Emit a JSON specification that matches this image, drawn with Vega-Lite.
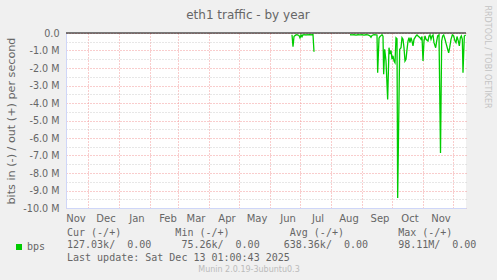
{
  "$schema": "https://vega.github.io/schema/vega-lite/v6.json",
  "width": 400,
  "height": 175,
  "autosize": {"type": "none"},
  "padding": {"left": 66, "top": 33, "right": 31, "bottom": 72},
  "background": "#f0f0f0",
  "title": {"text": "eth1 traffic - by year", "font": "DejaVu Sans", "fontSize": 12, "fontWeight": "normal", "color": "#666666", "anchor": "middle", "dx": -18, "offset": 0, "baseline": "alphabetic", "dy": 26},
  "config": {"view": {"stroke": null, "fill": "#ffffff"}, "font": "DejaVu Sans"},
  "resolve": {"scale": {"x": "shared", "y": "shared"}, "axis": {"x": "independent", "y": "independent"}},
  "layer": [
    {
      "data": {"values": [
        {"date": "2025-06-23T00:00:00", "value": -100000, "series": "bps"},
        {"date": "2025-06-24T00:00:00", "value": -780000, "series": "bps"},
        {"date": "2025-06-25T00:00:00", "value": -200000, "series": "bps"},
        {"date": "2025-06-26T00:00:00", "value": -150000, "series": "bps"},
        {"date": "2025-06-27T00:00:00", "value": -110000, "series": "bps"},
        {"date": "2025-06-28T00:00:00", "value": -100000, "series": "bps"},
        {"date": "2025-06-29T00:00:00", "value": -120000, "series": "bps"},
        {"date": "2025-06-30T00:00:00", "value": -140000, "series": "bps"},
        {"date": "2025-07-01T00:00:00", "value": -280000, "series": "bps"},
        {"date": "2025-07-02T00:00:00", "value": -110000, "series": "bps"},
        {"date": "2025-07-03T00:00:00", "value": -220000, "series": "bps"},
        {"date": "2025-07-04T00:00:00", "value": -100000, "series": "bps"},
        {"date": "2025-07-05T00:00:00", "value": -110000, "series": "bps"},
        {"date": "2025-07-06T00:00:00", "value": -100000, "series": "bps"},
        {"date": "2025-07-07T00:00:00", "value": -120000, "series": "bps"},
        {"date": "2025-07-08T00:00:00", "value": -100000, "series": "bps"},
        {"date": "2025-07-09T00:00:00", "value": -110000, "series": "bps"},
        {"date": "2025-07-10T00:00:00", "value": -100000, "series": "bps"},
        {"date": "2025-07-11T00:00:00", "value": -100000, "series": "bps"},
        {"date": "2025-07-12T00:00:00", "value": -110000, "series": "bps"},
        {"date": "2025-07-13T00:00:00", "value": -100000, "series": "bps"},
        {"date": "2025-07-14T00:00:00", "value": -100000, "series": "bps"},
        {"date": "2025-07-15T00:00:00", "value": -1070000, "series": "bps"},
        {"date": "2025-07-16T00:00:00", "value": null, "series": "bps"},
        {"date": "2025-08-20T00:00:00", "value": -100000, "series": "bps"},
        {"date": "2025-08-22T00:00:00", "value": -110000, "series": "bps"},
        {"date": "2025-08-24T00:00:00", "value": -100000, "series": "bps"},
        {"date": "2025-08-26T00:00:00", "value": -120000, "series": "bps"},
        {"date": "2025-08-28T00:00:00", "value": -100000, "series": "bps"},
        {"date": "2025-08-30T00:00:00", "value": -110000, "series": "bps"},
        {"date": "2025-09-01T00:00:00", "value": -100000, "series": "bps"},
        {"date": "2025-09-03T00:00:00", "value": -120000, "series": "bps"},
        {"date": "2025-09-05T00:00:00", "value": -100000, "series": "bps"},
        {"date": "2025-09-07T00:00:00", "value": -110000, "series": "bps"},
        {"date": "2025-09-09T00:00:00", "value": -160000, "series": "bps"},
        {"date": "2025-09-10T00:00:00", "value": -240000, "series": "bps"},
        {"date": "2025-09-11T00:00:00", "value": -140000, "series": "bps"},
        {"date": "2025-09-13T00:00:00", "value": -100000, "series": "bps"},
        {"date": "2025-09-15T00:00:00", "value": -110000, "series": "bps"},
        {"date": "2025-09-16T00:00:00", "value": -120000, "series": "bps"},
        {"date": "2025-09-16T16:00:00", "value": -2270000, "series": "bps"},
        {"date": "2025-09-18T00:00:00", "value": -300000, "series": "bps"},
        {"date": "2025-09-19T00:00:00", "value": -200000, "series": "bps"},
        {"date": "2025-09-20T00:00:00", "value": -150000, "series": "bps"},
        {"date": "2025-09-21T00:00:00", "value": -100000, "series": "bps"},
        {"date": "2025-09-22T00:00:00", "value": -180000, "series": "bps"},
        {"date": "2025-09-22T16:00:00", "value": -2360000, "series": "bps"},
        {"date": "2025-09-23T16:00:00", "value": -930000, "series": "bps"},
        {"date": "2025-09-25T00:00:00", "value": -1600000, "series": "bps"},
        {"date": "2025-09-26T16:00:00", "value": -3800000, "series": "bps"},
        {"date": "2025-09-28T00:00:00", "value": -840000, "series": "bps"},
        {"date": "2025-09-29T00:00:00", "value": -1200000, "series": "bps"},
        {"date": "2025-09-30T00:00:00", "value": -1000000, "series": "bps"},
        {"date": "2025-10-01T00:00:00", "value": -1500000, "series": "bps"},
        {"date": "2025-10-02T00:00:00", "value": -1300000, "series": "bps"},
        {"date": "2025-10-03T00:00:00", "value": -1600000, "series": "bps"},
        {"date": "2025-10-04T00:00:00", "value": -1700000, "series": "bps"},
        {"date": "2025-10-05T00:00:00", "value": -270000, "series": "bps"},
        {"date": "2025-10-06T00:00:00", "value": -330000, "series": "bps"},
        {"date": "2025-10-06T16:00:00", "value": -9430000, "series": "bps"},
        {"date": "2025-10-08T16:00:00", "value": -940000, "series": "bps"},
        {"date": "2025-10-10T00:00:00", "value": -840000, "series": "bps"},
        {"date": "2025-10-11T00:00:00", "value": -270000, "series": "bps"},
        {"date": "2025-10-12T00:00:00", "value": -360000, "series": "bps"},
        {"date": "2025-10-13T00:00:00", "value": -840000, "series": "bps"},
        {"date": "2025-10-14T00:00:00", "value": -1600000, "series": "bps"},
        {"date": "2025-10-15T00:00:00", "value": -1500000, "series": "bps"},
        {"date": "2025-10-16T00:00:00", "value": -950000, "series": "bps"},
        {"date": "2025-10-17T00:00:00", "value": -460000, "series": "bps"},
        {"date": "2025-10-18T00:00:00", "value": -270000, "series": "bps"},
        {"date": "2025-10-19T00:00:00", "value": -550000, "series": "bps"},
        {"date": "2025-10-20T00:00:00", "value": -270000, "series": "bps"},
        {"date": "2025-10-21T00:00:00", "value": -460000, "series": "bps"},
        {"date": "2025-10-22T00:00:00", "value": -740000, "series": "bps"},
        {"date": "2025-10-23T00:00:00", "value": -360000, "series": "bps"},
        {"date": "2025-10-25T00:00:00", "value": -170000, "series": "bps"},
        {"date": "2025-10-26T00:00:00", "value": -110000, "series": "bps"},
        {"date": "2025-10-27T00:00:00", "value": -170000, "series": "bps"},
        {"date": "2025-10-29T00:00:00", "value": -270000, "series": "bps"},
        {"date": "2025-10-30T00:00:00", "value": -360000, "series": "bps"},
        {"date": "2025-10-31T00:00:00", "value": -200000, "series": "bps"},
        {"date": "2025-11-01T00:00:00", "value": -1600000, "series": "bps"},
        {"date": "2025-11-02T00:00:00", "value": -460000, "series": "bps"},
        {"date": "2025-11-03T00:00:00", "value": -170000, "series": "bps"},
        {"date": "2025-11-04T00:00:00", "value": -360000, "series": "bps"},
        {"date": "2025-11-06T00:00:00", "value": -460000, "series": "bps"},
        {"date": "2025-11-07T00:00:00", "value": -170000, "series": "bps"},
        {"date": "2025-11-08T00:00:00", "value": -110000, "series": "bps"},
        {"date": "2025-11-09T00:00:00", "value": -360000, "series": "bps"},
        {"date": "2025-11-10T00:00:00", "value": -170000, "series": "bps"},
        {"date": "2025-11-11T00:00:00", "value": -110000, "series": "bps"},
        {"date": "2025-11-12T00:00:00", "value": -550000, "series": "bps"},
        {"date": "2025-11-13T16:00:00", "value": -840000, "series": "bps"},
        {"date": "2025-11-14T16:00:00", "value": -460000, "series": "bps"},
        {"date": "2025-11-15T16:00:00", "value": -170000, "series": "bps"},
        {"date": "2025-11-17T00:00:00", "value": -110000, "series": "bps"},
        {"date": "2025-11-18T12:00:00", "value": -6860000, "series": "bps"},
        {"date": "2025-11-19T16:00:00", "value": -460000, "series": "bps"},
        {"date": "2025-11-20T16:00:00", "value": -170000, "series": "bps"},
        {"date": "2025-11-21T16:00:00", "value": -110000, "series": "bps"},
        {"date": "2025-11-23T00:00:00", "value": -360000, "series": "bps"},
        {"date": "2025-11-24T08:00:00", "value": -650000, "series": "bps"},
        {"date": "2025-11-25T16:00:00", "value": -930000, "series": "bps"},
        {"date": "2025-11-26T16:00:00", "value": -1130000, "series": "bps"},
        {"date": "2025-11-27T16:00:00", "value": -840000, "series": "bps"},
        {"date": "2025-11-29T00:00:00", "value": -360000, "series": "bps"},
        {"date": "2025-11-30T08:00:00", "value": -110000, "series": "bps"},
        {"date": "2025-12-01T16:00:00", "value": -170000, "series": "bps"},
        {"date": "2025-12-03T00:00:00", "value": -460000, "series": "bps"},
        {"date": "2025-12-04T00:00:00", "value": -550000, "series": "bps"},
        {"date": "2025-12-05T00:00:00", "value": -200000, "series": "bps"},
        {"date": "2025-12-06T08:00:00", "value": -460000, "series": "bps"},
        {"date": "2025-12-07T08:00:00", "value": -740000, "series": "bps"},
        {"date": "2025-12-08T08:00:00", "value": -270000, "series": "bps"},
        {"date": "2025-12-09T08:00:00", "value": -170000, "series": "bps"},
        {"date": "2025-12-10T08:00:00", "value": -360000, "series": "bps"},
        {"date": "2025-12-11T00:00:00", "value": -2270000, "series": "bps"},
        {"date": "2025-12-12T08:00:00", "value": -170000, "series": "bps"},
        {"date": "2025-12-13T16:00:00", "value": -110000, "series": "bps"}
      ]},
      "mark": {"type": "line", "strokeWidth": 1.3, "invalid": "break-paths-show-domains"},
      "encoding": {
        "x": {
          "field": "date", "type": "temporal",
          "scale": {"domain": [{"year": 2024, "month": 11, "date": 9}, {"year": 2025, "month": 12, "date": 14}], "nice": false},
          "axis": {
            "orient": "bottom",
            "values": [
              {"year": 2024, "month": 12, "date": 1}, {"year": 2025, "month": 1, "date": 1}, {"year": 2025, "month": 2, "date": 1},
              {"year": 2025, "month": 3, "date": 1}, {"year": 2025, "month": 4, "date": 1}, {"year": 2025, "month": 5, "date": 1},
              {"year": 2025, "month": 6, "date": 1}, {"year": 2025, "month": 7, "date": 1}, {"year": 2025, "month": 8, "date": 1},
              {"year": 2025, "month": 9, "date": 1}, {"year": 2025, "month": 10, "date": 1}, {"year": 2025, "month": 11, "date": 1},
              {"year": 2025, "month": 12, "date": 1}
            ],
            "grid": true, "gridColor": "#f29a9a", "gridDash": [1, 2], "gridWidth": 1,
            "labels": false, "ticks": false, "domain": false,
            "title": "Munin 2.0.19-3ubuntu0.3",
            "titleFont": "DejaVu Sans", "titleFontSize": 8, "titleFontWeight": "normal", "titleColor": "#bbbbbb",
            "titleX": 182.5, "titleY": 63, "titleAlign": "center", "titleBaseline": "alphabetic"
          }
        },
        "y": {
          "field": "value", "type": "quantitative",
          "scale": {"domain": [-10000000, 0], "nice": false, "zero": false},
          "axis": {
            "orient": "left",
            "values": [0, -500000, -1000000, -1500000, -2000000, -2500000, -3000000, -3500000, -4000000, -4500000, -5000000, -5500000, -6000000, -6500000, -7000000, -7500000, -8000000, -8500000, -9000000, -9500000, -10000000],
            "grid": true,
            "gridColor": {"condition": {"test": "datum.value % 1000000 == 0", "value": "#f29a9a"}, "value": "#cfcfcf"},
            "gridDash": [1, 2],
            "ticks": false, "domain": true, "domainColor": "#cfd6f8",
            "labelExpr": "datum.value % 1000000 != 0 ? '' : (datum.value == 0 ? '0.0' : '-' + format(-datum.value / 1000000, '.1f') + ' M')",
            "labelFont": "DejaVu Sans", "labelFontSize": 9.6, "labelColor": "#666666", "labelPadding": 7, "labelOverlap": false,
            "title": "bits in (-) / out (+) per second",
            "titleFont": "DejaVu Sans", "titleFontSize": 11.2, "titleFontWeight": "normal", "titleColor": "#666666",
            "titleX": -55, "titleY": 87.5, "titleAngle": -90, "titleAlign": "center", "titleBaseline": "middle"
          }
        },
        "color": {
          "field": "series", "type": "nominal",
          "scale": {"range": ["#00cc00"]},
          "legend": {
            "title": null, "orient": "none", "legendX": -52, "legendY": 209, "padding": 0,
            "symbolType": "square", "symbolSize": 36, "symbolFillColor": "#00cc00", "symbolStrokeColor": "#00cc00", "symbolStrokeWidth": 0,
            "labelFont": "DejaVu Sans Mono", "labelFontSize": 10, "labelColor": "#666666", "labelOffset": 3
          }
        }
      }
    },
    {
      "data": {"values": [{"level": 0}]},
      "mark": {"type": "rule", "color": "#000000", "strokeWidth": 1},
      "encoding": {
        "x": {
          "datum": {"year": 2024, "month": 11, "date": 9}, "type": "temporal",
          "scale": {"domain": [{"year": 2024, "month": 11, "date": 9}, {"year": 2025, "month": 12, "date": 14}], "nice": false},
          "axis": {
            "orient": "bottom",
            "values": [
              {"year": 2024, "month": 11, "date": 18, "hours": 12}, {"year": 2024, "month": 12, "date": 18, "hours": 12},
              {"year": 2025, "month": 1, "date": 18, "hours": 12}, {"year": 2025, "month": 2, "date": 18, "hours": 12},
              {"year": 2025, "month": 3, "date": 18, "hours": 12}, {"year": 2025, "month": 4, "date": 18, "hours": 12},
              {"year": 2025, "month": 5, "date": 18, "hours": 12}, {"year": 2025, "month": 6, "date": 18, "hours": 12},
              {"year": 2025, "month": 7, "date": 18, "hours": 12}, {"year": 2025, "month": 8, "date": 18, "hours": 12},
              {"year": 2025, "month": 9, "date": 18, "hours": 12}, {"year": 2025, "month": 10, "date": 18, "hours": 12},
              {"year": 2025, "month": 11, "date": 18, "hours": 12}
            ],
            "format": "%b",
            "grid": false, "ticks": false, "tickSize": 0, "domain": true, "domainColor": "#cfd6f8",
            "labelFont": "DejaVu Sans", "labelFontSize": 10, "labelColor": "#666666", "labelPadding": 10,
            "labelBaseline": "middle", "labelAlign": "center", "labelFlush": false, "labelOverlap": false,
            "title": [
              "\u00a0\u00a0\u00a0\u00a0Cur (-/+)\u00a0\u00a0\u00a0\u00a0\u00a0\u00a0\u00a0\u00a0\u00a0Min (-/+)\u00a0\u00a0\u00a0\u00a0\u00a0\u00a0\u00a0\u00a0\u00a0\u00a0Avg (-/+)\u00a0\u00a0\u00a0\u00a0\u00a0\u00a0\u00a0\u00a0\u00a0Max (-/+)",
              "127.03k/\u00a0\u00a00.00\u00a0\u00a0\u00a0\u00a0\u00a075.26k/\u00a0\u00a00.00\u00a0\u00a0\u00a0\u00a0638.36k/\u00a0\u00a00.00\u00a0\u00a0\u00a0\u00a0\u00a098.11M/\u00a0\u00a00.00",
              "\u00a0\u00a0\u00a0\u00a0\u00a0\u00a0\u00a0\u00a0\u00a0\u00a0\u00a0\u00a0\u00a0\u00a0\u00a0\u00a0\u00a0\u00a0\u00a0\u00a0\u00a0\u00a0\u00a0\u00a0\u00a0\u00a0\u00a0\u00a0\u00a0\u00a0\u00a0\u00a0Last update: Sat Dec 13 01:00:43 2025"
            ],
            "titleFont": "DejaVu Sans Mono", "titleFontSize": 10, "titleFontWeight": "normal", "titleColor": "#666666",
            "titleAlign": "left", "titleBaseline": "alphabetic", "titleX": 0.5, "titleY": 27.3, "titleLineHeight": 12.5
          }
        },
        "x2": {"datum": {"year": 2025, "month": 12, "date": 14}},
        "y": {
          "field": "level", "type": "quantitative",
          "scale": {"domain": [-10000000, 0], "nice": false, "zero": false},
          "axis": {
            "orient": "right", "grid": false, "labels": false, "ticks": false, "domain": false,
            "title": "RRDTOOL / TOBI OETIKER",
            "titleFont": "DejaVu Sans", "titleFontSize": 8, "titleFontWeight": "normal", "titleColor": "#c4c4c4",
            "titleAngle": 90, "titleX": 20.5, "titleY": 23.5, "titleAlign": "center", "titleBaseline": "middle"
          }
        }
      }
    }
  ]
}
